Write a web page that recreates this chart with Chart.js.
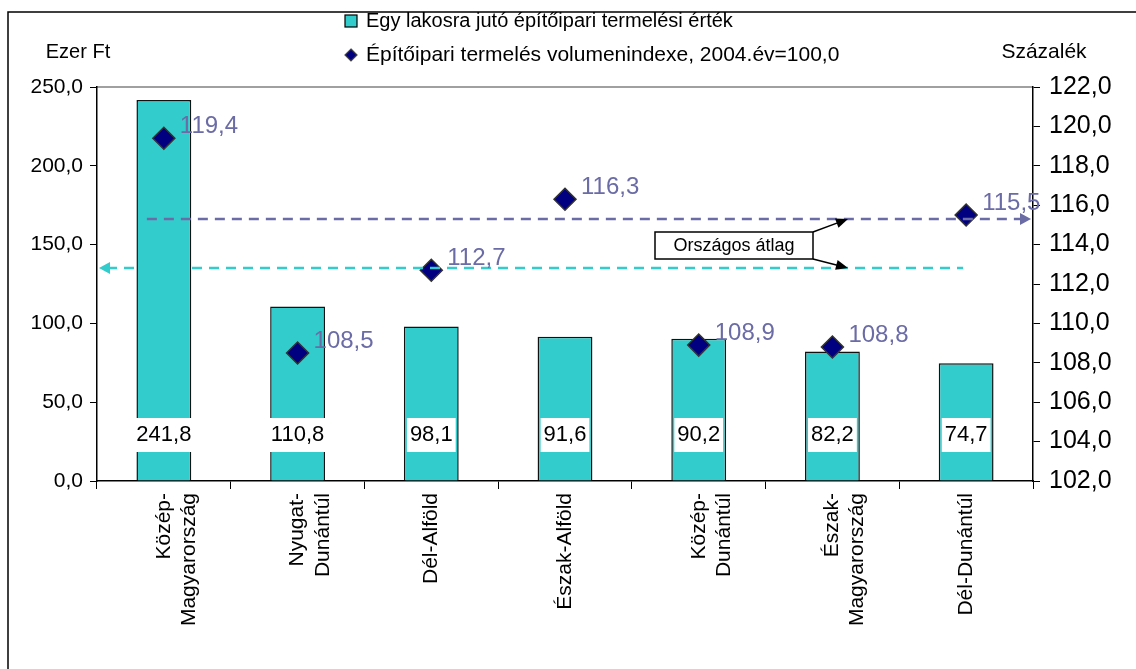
<!DOCTYPE html>
<html>
<head>
<meta charset="utf-8">
<script src="https://cdn.jsdelivr.net/npm/chart.js@4.4.1/dist/chart.umd.min.js"></script>
<style>
  html, body { margin: 0; padding: 0; background: #fff; }
  #wrap { position: relative; width: 1136px; height: 669px; }
</style>
</head>
<body>
<div id="wrap"><canvas id="chart" width="1136" height="669"></canvas></div>
<script>
// Regions (x axis)
const regions = [
    ['Közép-', 'Magyarország'],
    ['Nyugat-', 'Dunántúl'],
    'Dél-Alföld',
    'Észak-Alföld',
    ['Közép-', 'Dunántúl'],
    ['Észak-', 'Magyarország'],
    'Dél-Dunántúl'
];
// Egy lakosra jutó építőipari termelési érték, ezer Ft
const perCapitaValue = [241.8, 110.8, 98.1, 91.6, 90.2, 82.2, 74.7];
// Építőipari termelés volumenindexe, 2004 = 100,0
const volumeIndex = [119.4, 108.5, 112.7, 116.3, 108.9, 108.8, 115.5];
// Országos átlag
const avgPerCapita = 135.2;
const avgIndex = 115.3;

const leftTicks = [0, 50, 100, 150, 200, 250];
const rightTicks = [102, 104, 106, 108, 110, 112, 114, 116, 118, 120, 122];

const seriesNames = [
    'Egy lakosra jutó építőipari termelési érték',
    'Építőipari termelés volumenindexe, 2004.év=100,0'
];

const CYAN = '#33CCCC';
const NAVY = '#000080';
const PURPLE = '#6B6BA6';
const FONT = '"Liberation Sans", Arial, sans-serif';
const fmt = v => v.toFixed(1).replace('.', ',');

function arrowHead(ctx, x, y, dir, color) {
    ctx.save();
    ctx.fillStyle = color;
    ctx.beginPath();
    ctx.moveTo(x, y);
    ctx.lineTo(x - dir * 11, y - 6);
    ctx.lineTo(x - dir * 11, y + 6);
    ctx.closePath();
    ctx.fill();
    ctx.restore();
}

const decorations = {
    id: 'decorations',
    beforeDraw(chart) {
        const ctx = chart.ctx;
        const a = chart.chartArea;
        ctx.save();
        // outer frame
        ctx.strokeStyle = '#000';
        ctx.lineWidth = 1.5;
        ctx.beginPath();
        ctx.moveTo(8, 669);
        ctx.lineTo(8, 12);
        ctx.lineTo(1136, 12);
        ctx.stroke();
        // plot area top border
        ctx.strokeStyle = '#808080';
        ctx.lineWidth = 1.5;
        ctx.beginPath();
        ctx.moveTo(a.left, a.top);
        ctx.lineTo(a.right, a.top);
        ctx.stroke();
        // axis titles
        ctx.fillStyle = '#000';
        ctx.font = '20px ' + FONT;
        ctx.textAlign = 'center';
        ctx.textBaseline = 'middle';
        ctx.fillText('Ezer Ft', 78, 52);
        ctx.font = '21px ' + FONT;
        ctx.fillText('Százalék', 1044, 52);
        // legend
        ctx.font = '20px ' + FONT;
        ctx.textAlign = 'left';
        ctx.fillStyle = CYAN;
        ctx.fillRect(345, 15, 12, 12);
        ctx.strokeStyle = '#000';
        ctx.lineWidth = 1.2;
        ctx.strokeRect(345, 15, 12, 12);
        ctx.fillStyle = '#000';
        ctx.fillText(seriesNames[0], 366, 21);
        ctx.fillStyle = NAVY;
        ctx.beginPath();
        ctx.moveTo(351, 49);
        ctx.lineTo(357, 55);
        ctx.lineTo(351, 61);
        ctx.lineTo(345, 55);
        ctx.closePath();
        ctx.fill();
        ctx.strokeStyle = '#444';
        ctx.stroke();
        ctx.fillStyle = '#000';
        ctx.font = '21px ' + FONT;
        ctx.fillText(seriesNames[1], 366, 55);
        ctx.restore();
    },
    afterDatasetsDraw(chart) {
        const ctx = chart.ctx;
        const a = chart.chartArea;
        const y = chart.scales.y;
        const y1 = chart.scales.y1;
        const bars = chart.getDatasetMeta(1).data;
        ctx.save();

        // bar value labels in white boxes
        ctx.font = '22px ' + FONT;
        ctx.textAlign = 'center';
        ctx.textBaseline = 'middle';
        bars.forEach((b, i) => {
            const t = fmt(perCapitaValue[i]);
            const w = ctx.measureText(t).width + 6;
            const cy = a.bottom - 46;
            ctx.fillStyle = '#fff';
            ctx.fillRect(b.x - w / 2, cy - 17, w, 34);
            ctx.fillStyle = '#000';
            ctx.fillText(t, b.x, cy);
        });

        // average lines
        const yP = y1.getPixelForValue(avgIndex);
        const yC = y.getPixelForValue(avgPerCapita);
        ctx.lineWidth = 2.5;
        ctx.setLineDash([10, 7]);
        ctx.strokeStyle = PURPLE;
        ctx.beginPath();
        ctx.moveTo(bars[0].x - 17, yP);
        ctx.lineTo(a.right - 10, yP);
        ctx.stroke();
        ctx.strokeStyle = CYAN;
        ctx.beginPath();
        ctx.moveTo(a.left + 10, yC);
        ctx.lineTo(bars[bars.length - 1].x - 3, yC);
        ctx.stroke();
        ctx.setLineDash([]);
        arrowHead(ctx, a.right - 2, yP, 1, PURPLE);
        arrowHead(ctx, a.left + 2, yC, -1, CYAN);

        // callout
        const bx = 655, by = 232, bw = 158, bh = 27;
        ctx.fillStyle = '#fff';
        ctx.fillRect(bx, by, bw, bh);
        ctx.strokeStyle = '#000';
        ctx.lineWidth = 1.5;
        ctx.strokeRect(bx, by, bw, bh);
        ctx.fillStyle = '#000';
        ctx.font = '18px ' + FONT;
        ctx.fillText('Országos átlag', bx + bw / 2, by + bh / 2 + 1);
        [[by, yP], [by + bh, yC]].forEach(([sy, ty]) => {
            const ex = 848;
            const ang = Math.atan2(ty - sy, ex - (bx + bw));
            ctx.beginPath();
            ctx.moveTo(bx + bw, sy);
            ctx.lineTo(ex - 9 * Math.cos(ang), ty - 9 * Math.sin(ang));
            ctx.stroke();
            ctx.beginPath();
            ctx.moveTo(ex, ty);
            ctx.lineTo(ex - 12 * Math.cos(ang) + 5 * Math.sin(ang), ty - 12 * Math.sin(ang) - 5 * Math.cos(ang));
            ctx.lineTo(ex - 12 * Math.cos(ang) - 5 * Math.sin(ang), ty - 12 * Math.sin(ang) + 5 * Math.cos(ang));
            ctx.closePath();
            ctx.fill();
        });
        ctx.restore();
    },
    afterDraw(chart) {
        const ctx = chart.ctx;
        const pts = chart.getDatasetMeta(0).data;
        ctx.save();
        ctx.font = '24px ' + FONT;
        ctx.fillStyle = PURPLE;
        ctx.textAlign = 'left';
        ctx.textBaseline = 'middle';
        pts.forEach((p, i) => {
            ctx.fillText(fmt(volumeIndex[i]), p.x + 16, p.y - 12);
        });
        ctx.restore();
    }
};

new Chart(document.getElementById('chart'), {
    data: {
        labels: regions,
        datasets: [
            {
                type: 'line',
                label: seriesNames[1],
                data: volumeIndex,
                yAxisID: 'y1',
                showLine: false,
                pointStyle: 'rectRot',
                pointRadius: 11,
                pointHoverRadius: 11,
                pointBackgroundColor: NAVY,
                pointBorderColor: '#333',
                pointBorderWidth: 1.5,
                order: 0
            },
            {
                type: 'bar',
                label: seriesNames[0],
                data: perCapitaValue,
                yAxisID: 'y',
                backgroundColor: CYAN,
                borderColor: '#111',
                borderWidth: 1.5,
                barPercentage: 0.41,
                categoryPercentage: 1,
                order: 1
            }
        ]
    },
    options: {
        responsive: false,
        animation: false,
        events: [],
        layout: { padding: { top: 87, left: 0, right: 0, bottom: 0 } },
        plugins: { legend: { display: false }, tooltip: { enabled: false } },
        scales: {
            x: {
                offset: true,
                grid: { offset: true, drawOnChartArea: false, color: '#000', tickLength: 8, tickWidth: 1 },
                border: { color: '#000', width: 1.5 },
                ticks: {
                    color: '#000',
                    font: { family: FONT, size: 21 },
                    minRotation: 90,
                    maxRotation: 90,
                    padding: 4,
                    autoSkip: false
                },
                afterFit: s => { s.height = 669 - 481; }
            },
            y: {
                position: 'left',
                min: 0,
                max: 250,
                afterBuildTicks: s => { s.ticks = leftTicks.map(v => ({ value: v })); },
                grid: { drawOnChartArea: false, color: '#000', tickLength: 7 },
                border: { color: '#000', width: 1.5 },
                ticks: {
                    color: '#000',
                    font: { family: FONT, size: 21 },
                    padding: 7,
                    callback: v => fmt(v)
                },
                afterFit: s => { s.width = 97; }
            },
            y1: {
                position: 'right',
                min: 102,
                max: 122,
                afterBuildTicks: s => { s.ticks = rightTicks.map(v => ({ value: v })); },
                grid: { drawOnChartArea: false, color: '#000', tickLength: 7 },
                border: { color: '#000', width: 1.5 },
                ticks: {
                    color: '#000',
                    font: { family: FONT, size: 25 },
                    padding: 9,
                    callback: v => fmt(v)
                },
                afterFit: s => { s.width = 1136 - 1033; }
            }
        }
    },
    plugins: [decorations]
});
</script>
</body>
</html>
